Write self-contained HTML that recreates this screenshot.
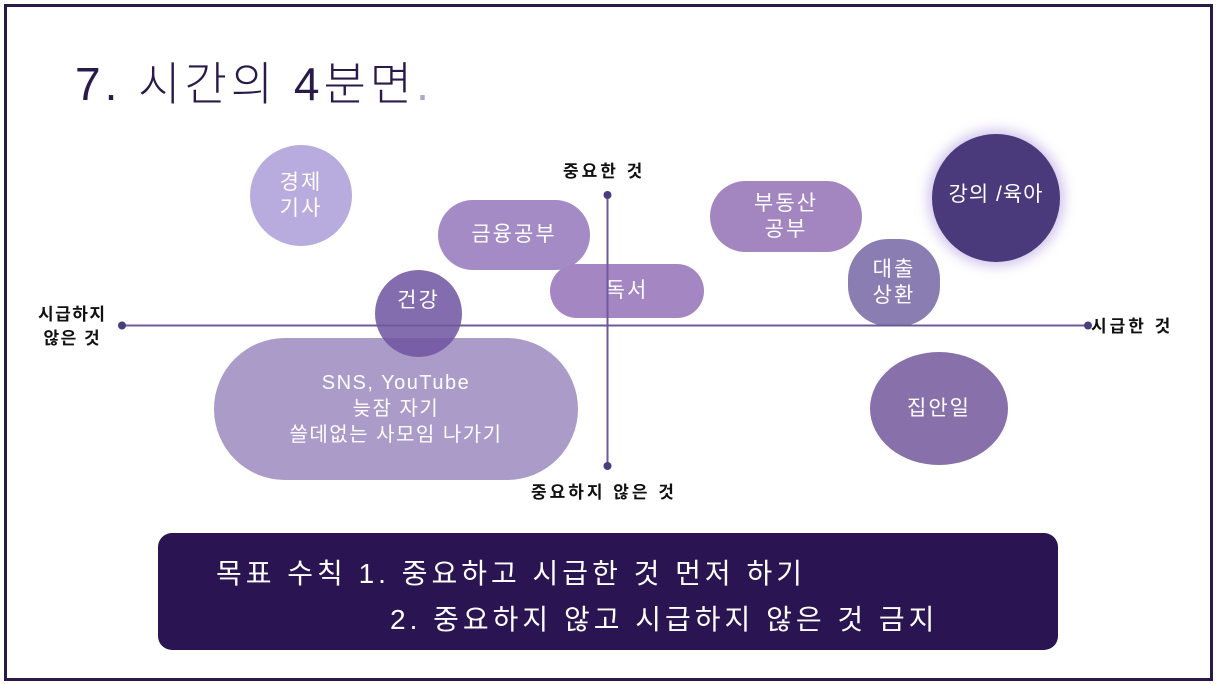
<!DOCTYPE html>
<html><head><meta charset="utf-8"><style>
body{margin:0;width:1216px;height:684px;background:#fff;position:relative;overflow:hidden;font-family:"Liberation Sans","Noto Sans CJK KR",sans-serif}
.frame{position:absolute;left:4px;top:4px;width:1203px;height:671px;border:3px solid #2a1a4a}
.s{position:absolute;display:flex;align-items:center;justify-content:center;text-align:center;color:#fff;font-size:21px;line-height:26px;letter-spacing:2px}
.l{position:absolute;font-weight:bold;font-size:17px;color:#111;line-height:24px;letter-spacing:3px;white-space:nowrap}
.t{position:absolute;color:#fff;font-size:28px;letter-spacing:4px;white-space:nowrap}
</style></head><body>
<div class="frame"></div>
<div style="position:absolute;left:75px;top:48px;font-size:46px;color:#2a1a4a;font-weight:300;letter-spacing:4px">7. 시간의 4분면<span style="color:#b0a4cc">.</span></div>
<div class="s" style="left:250px;top:145px;width:102px;height:101px;border-radius:50%;background:#b8acde">경제<br>기사</div>
<div class="s" style="left:438px;top:200px;width:152px;height:70px;border-radius:35px;background:#a58bc5">금융공부</div>
<div class="s" style="left:550px;top:264px;width:154px;height:54px;border-radius:27px;background:#a486c2">독서</div>
<div class="s" style="left:214px;top:338px;width:364px;height:142px;border-radius:71px;background:#ab9bc8;font-size:20px;letter-spacing:1.5px">SNS, YouTube<br>늦잠 자기<br>쓸데없는 사모임 나가기</div>
<div class="s" style="left:375px;top:270px;width:87px;height:87px;border-radius:50%;background:rgba(110,84,160,.85);align-items:flex-start;padding-top:18px;box-sizing:border-box">건강</div>
<div class="s" style="left:710px;top:181px;width:152px;height:71px;border-radius:36px;background:#a386c0">부동산<br>공부</div>
<div class="s" style="left:848px;top:239px;width:92px;height:87px;border-radius:40px;background:#8a7db2">대출<br>상환</div>
<div class="s" style="left:932px;top:134px;width:128px;height:128px;border-radius:50%;background:#4a3a7c;box-shadow:0 0 12px 4px rgba(150,120,210,.45);align-items:flex-start;padding-top:48px;box-sizing:border-box;letter-spacing:1px">강의 /육아</div>
<div class="s" style="left:870px;top:352px;width:138px;height:113px;border-radius:50%;background:#8870ab">집안일</div>
<svg style="position:absolute;left:0;top:0" width="1216" height="684">
<line x1="122" y1="325.5" x2="1088" y2="325.5" stroke="#6e5a9a" stroke-width="2"/>
<line x1="607.5" y1="195" x2="607.5" y2="466" stroke="#6e5a9a" stroke-width="2"/>
<circle cx="122" cy="325.5" r="4" fill="#4a3d7a"/><circle cx="1088" cy="325.5" r="4" fill="#4a3d7a"/>
<circle cx="607.5" cy="195" r="4" fill="#4a3d7a"/><circle cx="607.5" cy="466" r="4" fill="#4a3d7a"/>
</svg>
<div class="l" style="left:563px;top:160px">중요한 것</div>
<div class="l" style="left:531px;top:481px">중요하지 않은 것</div>
<div class="l" style="left:38px;top:303px;text-align:center;letter-spacing:1.5px">시급하지<br>않은 것</div>
<div class="l" style="left:1091px;top:315px">시급한 것</div>
<div style="position:absolute;left:158px;top:533px;width:900px;height:117px;border-radius:14px;background:#2a1552"></div>
<div class="t" style="left:216px;top:552px">목표 수칙 1. 중요하고 시급한 것 먼저 하기</div>
<div class="t" style="left:390px;top:598px">2. 중요하지 않고 시급하지 않은 것 금지</div>
</body></html>
